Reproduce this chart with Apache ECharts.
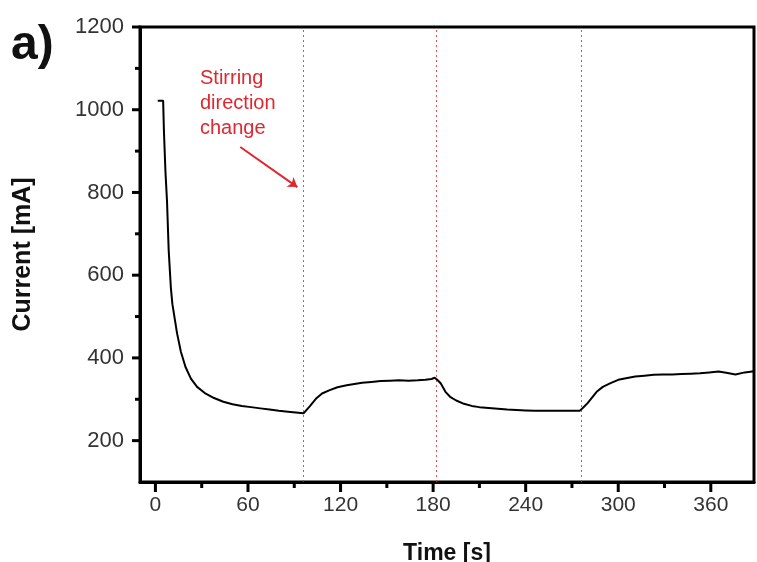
<!DOCTYPE html>
<html>
<head>
<meta charset="utf-8">
<script src="https://cdn.jsdelivr.net/npm/echarts@6/dist/echarts.min.js"></script>
<style>
  html, body { margin: 0; padding: 0; background: #fff; }
  #main { width: 757px; height: 562px; }
</style>
</head>
<body>
<div id="main"></div>
<script>
// 时间 [s]
var timeS = [1.5, 5, 5.5, 6.5, 7.5, 8.6, 10, 11, 12.5, 14, 16.5, 19.5, 23, 27, 32, 38, 44, 50, 56, 62, 68, 74, 80, 86, 91, 96,
  100, 104, 108, 113, 118, 124, 129, 134, 140, 146, 152, 158, 164, 170, 175, 179, 181, 183, 185, 188, 191, 195,
  200, 205, 210, 216, 222, 228, 234, 240, 246, 252, 258, 264, 270, 275, 277, 280, 283, 286, 290, 295,
  300, 305, 311, 317, 323, 329, 335, 341, 347, 353, 359, 365, 370, 376, 382, 388];
// 电流 [mA]
var currentMA = [1022, 1022, 950, 850, 780, 660, 570, 530, 495, 460, 415, 378, 350, 330, 315, 303, 294, 288, 284, 281, 278, 275, 272, 270, 268, 266,
  283, 301, 314, 322, 329, 334, 337, 340, 342, 344, 345, 346, 345, 346, 347, 349, 352, 346, 338, 318, 306, 297,
  289, 284, 281, 279, 277, 275, 274, 273, 272, 272, 272, 272, 272, 272, 279, 290, 304, 318, 330, 339,
  347, 351, 355, 357, 359, 360, 360, 361, 362, 363, 365, 367, 364, 360, 365, 368];
// 搅拌方向改变时刻
var changeTimes = [96, 182, 276];
// 刻度
var xLabels = [0, 60, 120, 180, 240, 300, 360];
var xMinor = [30, 90, 150, 210, 270, 330];
var yLabels = [200, 400, 600, 800, 1000, 1200];
var yMinor = [300, 500, 700, 900, 1100];
// 箭头 (数据坐标)
var arrowFrom = [55, 910];
var arrowTo = [92, 813];

var xMinVal = -10, xMaxVal = 388, yMinVal = 100, yMaxVal = 1200;

var myChart = echarts.init(document.getElementById('main'));
var red = '#e0262f';
var seriesData = timeS.map(function (t, i) { return [t, currentMA[i]]; });
var plain = function (v) { return String(v); };

var baseGraphic = [{
  id: 'panel', type: 'text', left: 11, top: 22,
  style: { text: 'a)', fontFamily: 'Liberation Sans', fontWeight: 'bold', fontSize: 48, fill: '#111' }
}, {
  id: 'note', type: 'text', left: 200, top: 66,
  style: {
    text: 'Stirring\ndirection\nchange', fontFamily: 'Liberation Sans', fontSize: 20,
    lineHeight: 25, fill: red
  }
}];

var option = {
  animation: false,
  backgroundColor: '#fff',
  grid: {
    left: 140, right: 3, top: 27, bottom: 80,
    show: true, borderColor: '#000', borderWidth: 3,
    containLabel: false, outerBoundsMode: 'none'
  },
  xAxis: {
    type: 'value', min: xMinVal, max: xMaxVal,
    name: 'Time [s]', nameLocation: 'middle', nameGap: 60,
    nameTextStyle: { fontFamily: 'Liberation Sans', fontWeight: 'bold', fontSize: 23, color: '#111' },
    axisLine: { onZero: false, lineStyle: { color: '#000', width: 3 } },
    axisTick: { show: false },
    axisLabel: { customValues: xLabels.slice(), formatter: plain, margin: 13, fontFamily: 'Liberation Sans', fontSize: 21, color: '#333' },
    splitLine: { show: false }
  },
  yAxis: {
    type: 'value', min: yMinVal, max: yMaxVal,
    name: 'Current [mA]', nameLocation: 'middle', nameGap: 104,
    nameTextStyle: { fontFamily: 'Liberation Sans', fontWeight: 'bold', fontSize: 25, color: '#111' },
    axisLine: { onZero: false, lineStyle: { color: '#000', width: 3 } },
    axisTick: { show: false },
    axisLabel: { customValues: yLabels.slice(), formatter: plain, margin: 16, fontFamily: 'Liberation Sans', fontSize: 22, color: '#333' },
    splitLine: { show: false }
  },
  graphic: baseGraphic,
  series: [{
    type: 'line',
    data: seriesData,
    showSymbol: false,
    z: 5,
    lineStyle: { color: '#000', width: 2 },
    markLine: {
      silent: true,
      symbol: ['none', 'none'],
      label: { show: false },
      lineStyle: { color: red, type: [2, 3], width: 1, opacity: 0.8 },
      data: changeTimes.map(function (t) { return { xAxis: t }; })
    }
  }, {
    type: 'line',
    data: [],
    markLine: {
      silent: true,
      symbol: ['none', 'arrow'],
      symbolSize: 9,
      label: { show: false },
      lineStyle: { color: red, type: 'solid', width: 2 },
      data: [[{ coord: arrowFrom }, { coord: arrowTo }]]
    }
  }]
};

myChart.setOption(option);

// 刻度线: 用坐标轴换算出像素位置再画 (主刻度长, 次刻度短)
var axisY = myChart.convertToPixel({ yAxisIndex: 0 }, yMinVal);
var axisX = myChart.convertToPixel({ xAxisIndex: 0 }, xMinVal);
var tickStyle = { stroke: '#000', lineWidth: 3 };
var ticks = [];
function addXTicks(vals, len) {
  vals.forEach(function (v) {
    var px = myChart.convertToPixel({ xAxisIndex: 0 }, v);
    ticks.push({ type: 'line', z: 10, shape: { x1: px, y1: axisY, x2: px, y2: axisY + len }, style: tickStyle });
  });
}
function addYTicks(vals, len) {
  vals.forEach(function (v) {
    var py = myChart.convertToPixel({ yAxisIndex: 0 }, v);
    ticks.push({ type: 'line', z: 10, shape: { x1: axisX - len, y1: py, x2: axisX, y2: py }, style: tickStyle });
  });
}
addXTicks(xLabels, 10);
addXTicks(xMinor, 6);
addYTicks(yLabels, 8);
addYTicks(yMinor, 5);

myChart.setOption({ graphic: baseGraphic.concat(ticks) });
</script>
</body>
</html>
